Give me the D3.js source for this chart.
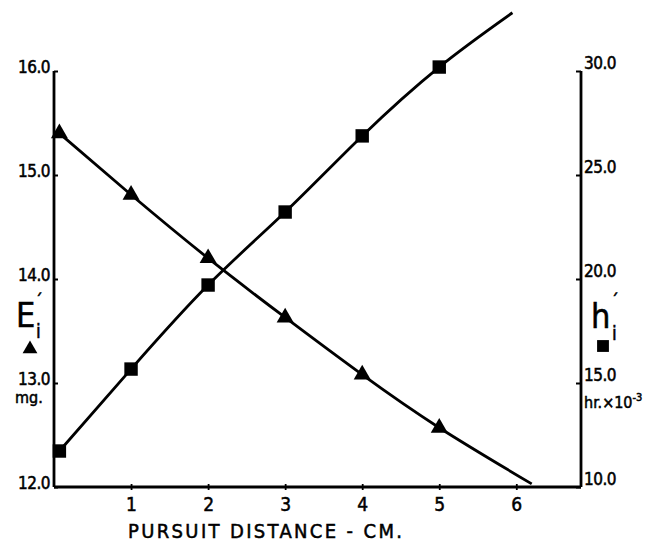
<!DOCTYPE html>
<html><head><meta charset="utf-8">
<script src="https://cdn.jsdelivr.net/npm/d3@7"></script>
<style>
body{margin:0;background:#fff}
svg{display:block}
text{font-family:"Liberation Sans Narrow","DejaVu Sans Condensed","Liberation Sans",sans-serif;fill:#000;stroke:#000;stroke-width:0.5px}
</style>
</head><body>
<svg id="c" width="653" height="543"></svg>
<script>
// ---- data ----
const pointDistance = [0.07, 1, 2, 3, 4, 5];
const energyValues  = [15.40, 14.81, 14.20, 13.63, 13.08, 12.57];   // E'i (mg.), triangles, left axis
const timeValues    = [11.73, 15.67, 19.71, 23.22, 26.88, 30.19];   // h'i (hr x 10^-3), squares, right axis
const energyCurveX  = [0.07, 1, 2, 3, 4, 5, 6.2];
const energyCurveY  = [15.40, 14.81, 14.20, 13.63, 13.08, 12.57, 12.03];
const timeCurveX    = [0.07, 1, 2, 3, 4, 5, 5.95];
const timeCurveY    = [11.73, 15.67, 19.71, 23.22, 26.88, 30.19, 32.8];
const xTicks     = [1, 2, 3, 4, 5, 6];
const leftTicks  = [12, 13, 14, 15, 16];
const rightTicks = [10, 15, 20, 25, 30];
const xTitle = "PURSUIT DISTANCE - CM.";

const svg = d3.select("#c");
const X0 = 54, X1 = 581, YB = 487, YT = 71;
const x  = d3.scaleLinear().domain([0, 6]).range([X0, 516.3]);
const yL = d3.scaleLinear().domain([12, 16]).range([YB, YT]);
const yR = d3.scaleLinear().domain([10, 30]).range([YB, YT]);
const fmt = d3.format(".1f");
const SW = 2.8;

// left axis
const gL = svg.append("g").attr("transform", `translate(${X0},0)`)
  .call(d3.axisLeft(yL).tickValues(leftTicks).tickFormat(fmt).tickSize(-4).tickPadding(4));
gL.select(".domain").attr("stroke-width", SW).attr("d", `M0,${YT}V${YB}`);
gL.selectAll(".tick line").attr("stroke-width", 2);
gL.selectAll(".tick text").attr("font-size", 17).attr("dy", "0.1em").attr("letter-spacing", "-0.5");

// right axis
const gR = svg.append("g").attr("transform", `translate(${X1},0)`)
  .call(d3.axisRight(yR).tickValues(rightTicks).tickFormat(fmt).tickSize(-5).tickPadding(3));
gR.select(".domain").attr("stroke-width", SW).attr("d", `M0,${YT}V${YB}`);
gR.selectAll(".tick line").attr("stroke-width", 2);
gR.selectAll(".tick text").attr("font-size", 17).attr("dy", "-0.15em").attr("letter-spacing", "-0.5");

// bottom axis
const gB = svg.append("g").attr("transform", `translate(0,${YB})`)
  .call(d3.axisBottom(x).tickValues(xTicks).tickFormat(d3.format("d")).tickSizeInner(3).tickSizeOuter(0).tickPadding(8));
gB.select(".domain").attr("stroke-width", SW).attr("d", `M${X0},0H${X1}`);
gB.selectAll(".tick line").attr("stroke-width", 1.8).attr("y1", -3).attr("y2", 3);
gB.selectAll(".tick text").attr("font-size", 19);
svg.selectAll(".domain, .tick line").attr("stroke", "#000");
svg.selectAll(".tick text").attr("fill", "#000");

// x title
svg.append("text").attr("x", 265).attr("y", 538).attr("text-anchor", "middle")
  .attr("font-size", 20).attr("textLength", 274).attr("lengthAdjust", "spacing").text(xTitle);

// curves
const line = d3.line().curve(d3.curveNatural);
svg.append("path")
  .attr("d", line(energyCurveX.map((d, i) => [x(d), yL(energyCurveY[i])])))
  .attr("fill", "none").attr("stroke", "#000").attr("stroke-width", SW);
svg.append("path")
  .attr("d", line(timeCurveX.map((d, i) => [x(d), yR(timeCurveY[i])])))
  .attr("fill", "none").attr("stroke", "#000").attr("stroke-width", SW);

// markers
svg.selectAll(".tri").data(pointDistance).join("path").attr("class", "tri")
  .attr("transform", (d, i) => `translate(${x(d)},${yL(energyValues[i])})`)
  .attr("d", d3.symbol(d3.symbolTriangle, 125)).attr("fill", "#000");
svg.selectAll(".sq").data(pointDistance).join("path").attr("class", "sq")
  .attr("transform", (d, i) => `translate(${x(d)},${yR(timeValues[i])})`)
  .attr("d", d3.symbol(d3.symbolSquare, 180)).attr("fill", "#000");

// left axis title  E'i
svg.append("text").attr("x", 16).attr("y", 327).attr("font-size", 34).text("E");
svg.append("text").attr("x", 35).attr("y", 307).attr("font-size", 17).text("\u00B4");
svg.append("text").attr("x", 36).attr("y", 338).attr("font-size", 19).text("i");
svg.append("path").attr("transform", "translate(30,349)")
  .attr("d", d3.symbol(d3.symbolTriangle, 95)).attr("fill", "#000");
svg.append("text").attr("x", 15).attr("y", 403).attr("font-size", 16).text("mg.");

// right axis title  h'i
svg.append("text").attr("x", 591).attr("y", 328).attr("font-size", 34).text("h");
svg.append("text").attr("x", 611).attr("y", 307).attr("font-size", 17).text("\u00B4");
svg.append("text").attr("x", 612).attr("y", 340).attr("font-size", 19).text("i");
svg.append("path").attr("transform", "translate(603,346)")
  .attr("d", d3.symbol(d3.symbolSquare, 140)).attr("fill", "#000");
const hr = svg.append("text").attr("x", 584).attr("y", 408).attr("font-size", 16);
hr.append("tspan").text("hr.\u00D710");
hr.append("tspan").attr("dy", -7).attr("font-size", 11).text("-3");
</script>
</body></html>
